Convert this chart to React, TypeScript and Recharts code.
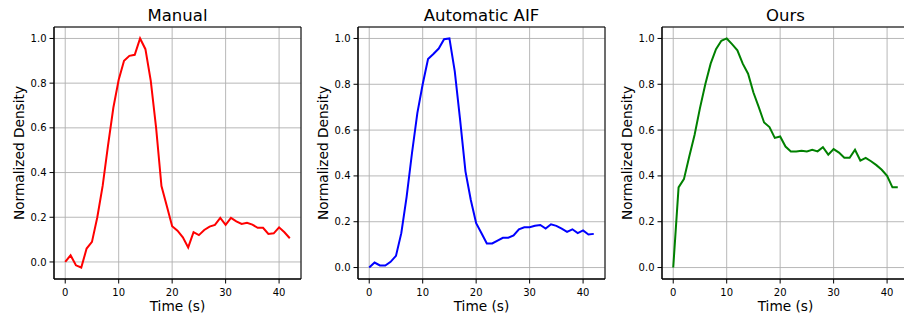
import { LineChart, Line, XAxis, YAxis, CartesianGrid, ReferenceArea } from 'recharts'

const times = [
  0, 1, 2, 3, 4, 5, 6, 7, 8, 9, 10, 11, 12, 13, 14, 15, 16, 17, 18, 19, 20,
  21, 22, 23, 24, 25, 26, 27, 28, 29, 30, 31, 32, 33, 34, 35, 36, 37, 38, 39,
  40, 41, 42,
]

const manual = [
  0.0, 0.03, -0.015, -0.025, 0.06, 0.09, 0.2, 0.34, 0.52, 0.69, 0.815, 0.9,
  0.922, 0.927, 1.0, 0.952, 0.81, 0.6, 0.34, 0.25, 0.16, 0.14, 0.11, 0.065,
  0.133, 0.12, 0.143, 0.158, 0.166, 0.197, 0.166, 0.197, 0.182, 0.17, 0.175,
  0.167, 0.153, 0.153, 0.125, 0.128, 0.155, 0.133, 0.106,
]

const automaticAif = [
  0.0, 0.022, 0.009, 0.009, 0.025, 0.051, 0.15, 0.31, 0.5, 0.674, 0.8, 0.91,
  0.932, 0.956, 0.997, 1.0, 0.856, 0.645, 0.42, 0.295, 0.194, 0.15, 0.105,
  0.105, 0.118, 0.13, 0.13, 0.14, 0.167, 0.176, 0.176, 0.182, 0.186, 0.17,
  0.189, 0.182, 0.17, 0.156, 0.167, 0.15, 0.162, 0.144, 0.147,
]

const ours = [
  0.0, 0.35, 0.386, 0.485, 0.58, 0.696, 0.8, 0.89, 0.953, 0.99, 1.0, 0.975,
  0.948, 0.89, 0.846, 0.764, 0.7, 0.633, 0.613, 0.566, 0.572, 0.528, 0.507,
  0.507, 0.51, 0.507, 0.514, 0.507, 0.525, 0.493, 0.517, 0.502, 0.479, 0.479,
  0.514, 0.467, 0.479, 0.464, 0.447, 0.427, 0.4, 0.35, 0.35,
]

const titles = ['Manual', 'Automatic AIF', 'Ours']
const colors = ['#ff0000', '#0000ff', '#008000']
const xTicks = [0, 10, 20, 30, 40]
const yTicks = [0, 0.2, 0.4, 0.6, 0.8, 1.0]

const FONT = 'DejaVu Sans, sans-serif'

// matplotlib style 5% margins
const padDomain = (vals: number[]): [number, number] => {
  const lo = Math.min(...vals)
  const hi = Math.max(...vals)
  const pad = (hi - lo) * 0.05
  return [lo - pad, hi + pad]
}

const Panel = ({ title, values, color }: { title: string; values: number[]; color: string }) => {
  const data = times.map((t, i) => ({ t, v: values[i] }))
  const xDomain = padDomain(times)
  const yDomain = padDomain(values)

  return (
    <LineChart width={304} height={320} data={data} margin={{ top: 27, right: 3, bottom: 1, left: 0 }}>
      <CartesianGrid stroke="#b0b0b0" strokeWidth={0.9} />
      <XAxis
        dataKey="t"
        type="number"
        domain={xDomain}
        ticks={xTicks}
        height={40}
        stroke="#000"
        tickSize={4.5}
        tickMargin={5.5}
        tick={{ fontSize: 10, fill: '#000', fontFamily: FONT }}
        label={(p: any) => {
          const vb = p.viewBox
          return (
            <text x={vb.x + vb.width / 2} y={vb.y + 31.7} textAnchor="middle" fontSize={13.7} fontFamily={FONT} fill="#000">
              Time (s)
            </text>
          )
        }}
      />
      <YAxis
        type="number"
        domain={yDomain}
        ticks={yTicks}
        width={54}
        stroke="#000"
        tickSize={4.5}
        tickMargin={3}
        tickFormatter={(v: number) => v.toFixed(1)}
        tick={{ fontSize: 10, fill: '#000', fontFamily: FONT }}
        label={(p: any) => {
          const vb = p.viewBox
          const cx = 23.5
          const cy = vb.y + vb.height / 2
          return (
            <text x={cx} y={cy} transform={`rotate(-90 ${cx} ${cy})`} textAnchor="middle" fontSize={13.7} fontFamily={FONT} fill="#000">
              Normalized Density
            </text>
          )
        }}
      />
      <Line
        type="linear"
        dataKey="v"
        stroke={color}
        strokeWidth={2}
        dot={false}
        isAnimationActive={false}
      />
      {/* axes frame */}
      <ReferenceArea
        x1={xDomain[0]}
        x2={xDomain[1]}
        y1={yDomain[0]}
        y2={yDomain[1]}
        fill="none"
        fillOpacity={0}
        stroke="#000"
        strokeWidth={1}
      />
      <text x={177.5} y={20.7} textAnchor="middle" fontSize={16.5} fontFamily={FONT} fill="#000">
        {title}
      </text>
    </LineChart>
  )
}

export default function App() {
  const series = [manual, automaticAif, ours]
  return (
    <div style={{ position: 'absolute', left: 0, top: 0, width: 904, height: 320, overflow: 'hidden', background: '#fff' }}>
      {series.map((vals, i) => (
        <div key={titles[i]} style={{ position: 'absolute', left: i * 304, top: 0, width: 304, height: 320 }}>
          <Panel title={titles[i]} values={vals} color={colors[i]} />
        </div>
      ))}
    </div>
  )
}
